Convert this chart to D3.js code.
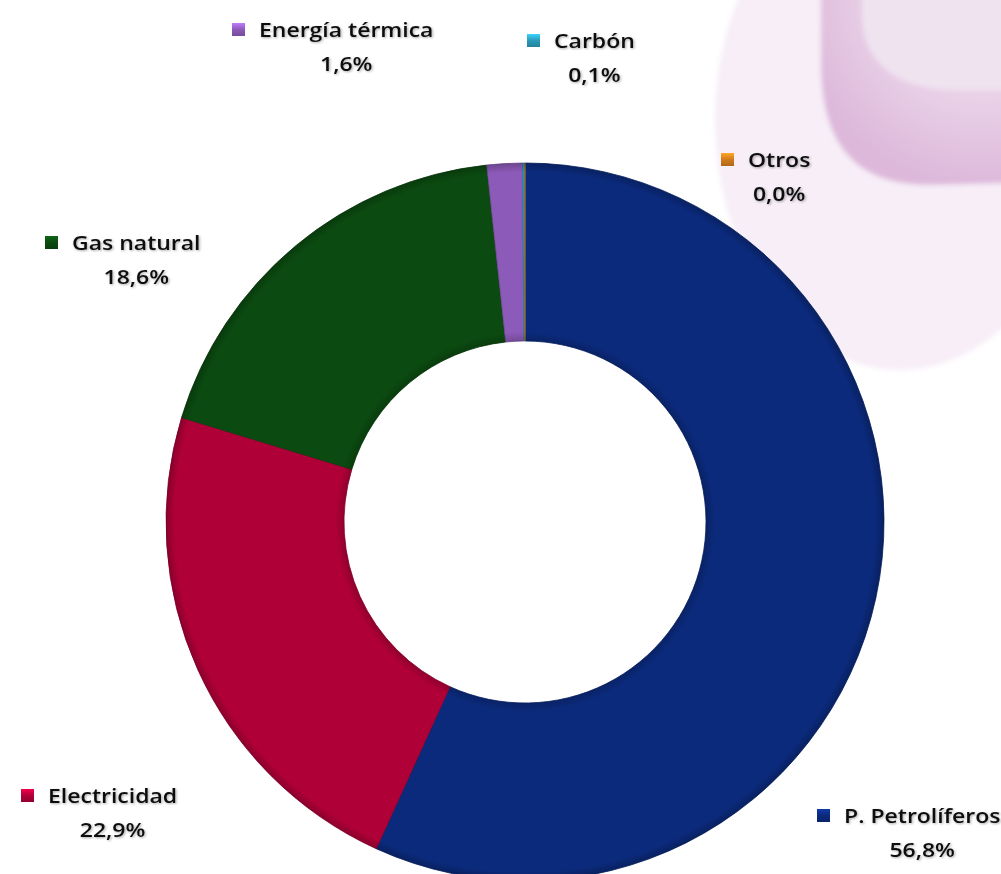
<!DOCTYPE html>
<html>
<head>
<meta charset="utf-8">
<script src="https://cdn.jsdelivr.net/npm/d3@7/dist/d3.min.js"></script>
<style>
  html, body { margin: 0; padding: 0; background: #ffffff; }
  svg { display: block; }
  .lbl { font-family: "Open Sans", Lato, sans-serif; font-size: 20px; font-weight: 600; fill: #111; }
</style>
</head>
<body>
<svg id="chart" width="1001" height="874"></svg>
<script>
// Energy consumption shares by source (%)
const categories = ["P. Petrolíferos", "Electricidad", "Gas natural", "Energía térmica", "Carbón", "Otros"];
const shares = [56.8, 22.9, 18.6, 1.6, 0.1, 0.0];
const colors = ["#0b2a7c", "#b00038", "#0b4a10", "#8c5ab8", "#2a9ab8", "#d27a1c"];

// Label anchor points (left edge of the swatch, baseline of the name line)
const labelAnchors = [
  [817, 823], [21, 803], [45, 250], [232, 37], [527, 48], [721, 167]
];

const svg = d3.select("#chart");
const cx = 525, cy = 522, rOuter = 359, rInner = 181;
const textStretch = 1.15;

const defs = svg.append("defs");

// Decorative background shapes in the top-right corner
const blur = defs.append("filter").attr("id", "soft").attr("x", "-20%").attr("y", "-20%").attr("width", "140%").attr("height", "140%");
blur.append("feGaussianBlur").attr("stdDeviation", 2.5);

const bandGrad = defs.append("radialGradient").attr("id", "band")
  .attr("cx", 0.85).attr("cy", 0.0).attr("r", 1.0);
bandGrad.append("stop").attr("offset", "0%").attr("stop-color", "#f0e2f0");
bandGrad.append("stop").attr("offset", "60%").attr("stop-color", "#e8cfe6");
bandGrad.append("stop").attr("offset", "100%").attr("stop-color", "#ddb8da");

const bg = svg.append("g").attr("filter", "url(#soft)");
bg.append("ellipse").attr("cx", 900).attr("cy", 120).attr("rx", 185).attr("ry", 250)
  .attr("fill", "#f7eef7");
bg.append("path")
  .attr("d", "M821,-10 L821,60 C821,140 850,185 930,185 L1011,183 L1011,-10 Z")
  .attr("fill", "url(#band)");
bg.append("path")
  .attr("d", "M862,-10 L862,15 C862,60 895,90 955,90 L1011,90 L1011,-10 Z")
  .attr("fill", "#efe3f0");

// Donut
const pie = d3.pie().sort(null).value(d => d.v).startAngle(0).endAngle(2 * Math.PI);
const data = categories.map((c, i) => ({ name: c, v: shares[i], color: colors[i] }));
const arcs = pie(data);
const arc = d3.arc().innerRadius(rInner).outerRadius(rOuter);

// soft bevel shading along the inner and outer rims
const ringGrad = defs.append("radialGradient").attr("id", "ringShade")
  .attr("gradientUnits", "userSpaceOnUse").attr("cx", 0).attr("cy", 0).attr("r", rOuter);
ringGrad.append("stop").attr("offset", (rInner / rOuter)).attr("stop-color", "#000").attr("stop-opacity", 0.18);
ringGrad.append("stop").attr("offset", (rInner / rOuter + 0.025)).attr("stop-color", "#000").attr("stop-opacity", 0);
ringGrad.append("stop").attr("offset", 0.975).attr("stop-color", "#000").attr("stop-opacity", 0);
ringGrad.append("stop").attr("offset", 1).attr("stop-color", "#000").attr("stop-opacity", 0.22);

const g = svg.append("g").attr("transform", `translate(${cx},${cy})`);
g.selectAll("path.slice").data(arcs).join("path")
  .attr("class", "slice")
  .attr("d", arc)
  .attr("fill", d => d.data.color)
  .attr("stroke", d => d3.color(d.data.color).darker(0.6))
  .attr("stroke-width", 0.8);
g.selectAll("path.shade").data(arcs.filter(d => d.data.v > 0)).join("path")
  .attr("class", "shade")
  .attr("d", arc)
  .attr("fill", "url(#ringShade)");

// Labels with swatch
const fmt = d3.formatLocale({ decimal: ",", thousands: ".", grouping: [3], currency: ["", "€"] }).format(".1f");

const shadow = defs.append("filter").attr("id", "txtShadow").attr("x", "-10%").attr("y", "-30%").attr("width", "120%").attr("height", "160%");
shadow.append("feGaussianBlur").attr("in", "SourceAlpha").attr("stdDeviation", 1.2).attr("result", "b");
shadow.append("feOffset").attr("in", "b").attr("dx", 1).attr("dy", 1).attr("result", "o");
shadow.append("feComponentTransfer").attr("in", "o").attr("result", "s")
  .append("feFuncA").attr("type", "linear").attr("slope", 0.35);
const fm = shadow.append("feMerge");
fm.append("feMergeNode").attr("in", "s");
fm.append("feMergeNode").attr("in", "SourceGraphic");

data.forEach((d, i) => {
  const [x, y] = labelAnchors[i];
  const grad = defs.append("linearGradient").attr("id", "sw" + i)
    .attr("x1", 0).attr("y1", 0).attr("x2", 0).attr("y2", 1);
  grad.append("stop").attr("offset", "0%").attr("stop-color", d3.color(d.color).brighter(0.9));
  grad.append("stop").attr("offset", "50%").attr("stop-color", d.color);
  grad.append("stop").attr("offset", "100%").attr("stop-color", d3.color(d.color).darker(0.5));

  svg.append("rect").attr("x", x).attr("y", y - 14).attr("width", 13).attr("height", 13)
    .attr("fill", "url(#sw" + i + ")");
  const tg = svg.append("g").attr("class", "label")
    .attr("transform", `translate(${x + 27},${y}) scale(${textStretch},1)`);
  const name = tg.append("text").attr("class", "lbl").attr("filter", "url(#txtShadow)")
    .attr("x", 0).attr("y", 0).text(d.name);
  const bb = name.node().getBBox();
  tg.append("text").attr("class", "lbl").attr("filter", "url(#txtShadow)")
    .attr("x", bb.x + bb.width / 2).attr("y", 34).attr("text-anchor", "middle")
    .text(fmt(d.v) + "%");
});
</script>
</body>
</html>
